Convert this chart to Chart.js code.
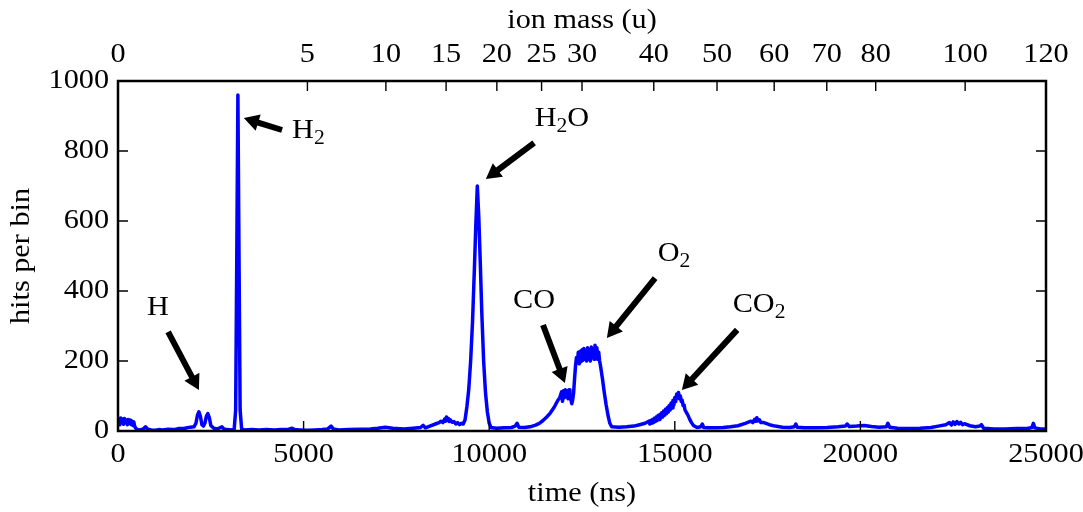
<!DOCTYPE html>
<html>
<head>
<meta charset="utf-8">
<script src="https://cdn.jsdelivr.net/npm/chart.js@4.4.1/dist/chart.umd.min.js"></script>
<style>
  html, body { margin: 0; padding: 0; background: #ffffff; }
  #wrap { width: 1083px; height: 512px; }
</style>
</head>
<body>
<div id="wrap"><canvas id="tof" width="1083" height="512"></canvas></div>
<script>
// Time-of-flight spectrum: arrival time (ns) and hits per bin
const timeNs = [
  0, 25, 50, 75, 100, 125, 150, 175, 200, 225, 250, 275, 300, 325, 350, 375, 400, 425, 450, 480, 520,
  600, 680, 740, 800, 900, 1000, 1100, 1200, 1350, 1500, 1650, 1800, 1950, 2050,
  2100, 2140, 2180, 2220, 2260, 2300, 2340, 2380, 2420, 2460, 2500, 2580, 2680, 2760, 2800, 2850, 2950, 3050,
  3130, 3170, 3200, 3230, 3260, 3290, 3330,
  3400, 3600, 3800, 4000, 4200, 4400, 4600, 4690, 4760, 4900, 5100, 5300, 5500, 5650, 5740, 5800, 5950,
  6200, 6500, 6800, 7000, 7200, 7400, 7700, 7950, 8150, 8220, 8280, 8400, 8550, 8650, 8700, 8750, 8800, 8825,
  8850, 8875, 8900, 8925, 8950, 9000, 9050, 9100, 9150, 9200, 9250, 9300, 9350,
  9400, 9450, 9500, 9550, 9600, 9640, 9680, 9720, 9760, 9800, 9850, 9900, 9950, 10000, 10050,
  10200, 10400, 10600, 10700, 10750, 10800, 10950, 11100, 11250, 11350, 11450, 11550, 11650, 11750, 11850, 11900,
  11950, 11975, 12000, 12025, 12050, 12075, 12100, 12125, 12150, 12175, 12200, 12225, 12250, 12275, 12300, 12325,
  12350, 12375, 12400, 12425, 12450, 12475, 12500, 12525, 12550, 12575, 12600, 12625, 12650, 12675, 12700, 12725,
  12750, 12775, 12800, 12825, 12850, 12875, 12900, 12925, 12950, 12975, 13000, 13050, 13100, 13150, 13200, 13250, 13300,
  13500, 13700, 13900, 14050, 14200, 14300, 14325, 14350, 14375, 14400, 14425, 14450, 14475, 14500, 14525, 14550,
  14575, 14600, 14625, 14650, 14675, 14700, 14725, 14750, 14775, 14800, 14825, 14850, 14875, 14900, 14925, 14950,
  14975, 15000, 15025, 15050, 15075, 15100, 15125, 15150, 15175, 15200, 15225, 15250, 15275, 15300, 15350, 15400,
  15450, 15500, 15600,
  15700, 15740, 15780, 15900, 16100, 16300, 16500, 16700, 16900, 17050, 17100, 17150, 17180, 17210, 17240, 17280,
  17320, 17400, 17550, 17700,
  17900, 18100, 18220, 18260, 18300, 18500, 18800, 19100, 19400, 19600, 19640, 19700, 19900, 20100, 20300, 20500,
  20700, 20740, 20790, 21000, 21300, 21600, 21900, 22100, 22300, 22400, 22450, 22500, 22550, 22600, 22650, 22700,
  22750, 22800, 22950, 23100, 23220, 23260,
  23320, 23600, 23900, 24200, 24500, 24620, 24660, 24700, 24850, 25000
];
const hits = [
  22, 36, 18, 37, 24, 34, 19, 36, 25, 32, 18, 33, 21, 31, 19, 28, 16, 26, 13, 8, 4,
  3, 6, 12, 5, 3, 2, 4, 3, 5, 4, 7, 8, 11, 12,
  22, 45, 55, 42, 18, 14, 22, 42, 50, 38, 16, 8, 6, 10, 12, 6, 4, 3,
  5, 60, 500, 960, 500, 60, 6,
  3, 4, 3, 4, 3, 4, 5, 8, 4, 3, 2, 3, 4, 6, 14, 6, 3,
  4, 5, 6, 8, 11, 8, 6, 8, 10, 16, 9, 14, 20, 24, 28, 24, 34, 28,
  40, 30, 36, 27, 32, 25, 27, 20, 24, 18, 22, 20, 32,
  70, 120, 200, 310, 460, 590, 700, 610, 480, 340, 200, 110, 55, 22, 10,
  8, 9, 10, 14, 22, 11, 10, 12, 17, 22, 30, 40, 52, 68, 88, 95,
  112, 85, 115, 95, 118, 98, 115, 92, 118, 96, 90, 78, 90, 110, 150, 185,
  210, 195, 225, 192, 228, 198, 232, 202, 236, 205, 230, 200, 238, 205, 232, 200,
  240, 210, 235, 205, 245, 215, 238, 205, 225, 200, 185, 150, 110, 75, 45, 22, 12,
  11, 12, 14, 18, 22, 28, 20, 30, 22, 33, 24, 36, 27, 40, 30, 44,
  33, 48, 37, 52, 40, 57, 45, 62, 49, 67, 54, 73, 60, 80, 66, 88,
  74, 96, 84, 106, 95, 110, 92, 100, 84, 88, 72, 74, 60, 60, 46, 34,
  24, 16, 10,
  12, 20, 10, 9, 9, 10, 12, 15, 22, 28, 24, 33, 28, 38, 29, 32,
  24, 24, 18, 14,
  11, 10, 12, 20, 11, 9, 9, 10, 12, 14, 20, 13, 14, 16, 13, 11,
  12, 22, 11, 8, 7, 8, 10, 14, 18, 24, 17, 26, 19, 27, 20, 25,
  18, 21, 15, 12, 14, 18,
  8, 6, 6, 7, 7, 10, 22, 9, 6, 6
];

// Axis ticks
const timeTicks = [0, 5000, 10000, 15000, 20000, 25000];
const hitTicks = [0, 200, 400, 600, 800, 1000];
const massTicks = [0, 5, 10, 15, 20, 25, 30, 40, 50, 60, 70, 80, 100, 120];
const massAtFullScale = 120;   // ion mass (u) arriving at the end of the time window

// Peak labels (centre x, baseline y) and arrows (data coordinates)
const peakNames   = ['H', 'H_2', 'H_2O', 'CO', 'O_2', 'CO_2'];
const nameTime    = [1078, 5130, 11960, 11207, 14980, 17270];
const nameHits    = [331, 837, 871, 351, 486, 340];
const arrowTailT  = [1350, 4420, 11210, 11450, 14470, 16680];
const arrowTailH  = [283, 860, 823, 303, 437, 289];
const arrowTipT   = [2180, 3390, 9910, 12040, 13170, 15190];
const arrowTipH   = [117, 894, 720, 137, 266, 117];

const FONT_FAMILY = '"Liberation Serif", "DejaVu Serif", serif';
const FONT_SIZE = 28;
const STRETCH = 1.08;         // widen glyphs toward a Computer Modern look
const tofSpan = 25000;
const massToTime = m => tofSpan * Math.sqrt(m / massAtFullScale);

function textAt(ctx, str, x, y, align, size, rot) {
  ctx.save();
  ctx.translate(x, y);
  if (rot) ctx.rotate(rot);
  ctx.scale(STRETCH, 1);
  ctx.font = `${size || FONT_SIZE}px ${FONT_FAMILY}`;
  ctx.textAlign = align;
  ctx.textBaseline = 'alphabetic';
  ctx.fillText(str, 0, 0);
  ctx.restore();
}

// Draws a label such as "CO_2" with the digit after "_" as a subscript
function drawChem(ctx, text, cx, baseY) {
  const parts = [];
  for (let i = 0; i < text.length; i++) {
    if (text[i] === '_') { parts.push({ s: text[i + 1], sub: true }); i++; }
    else parts.push({ s: text[i], sub: false });
  }
  const subSize = Math.round(FONT_SIZE * 0.72);
  let total = 0;
  parts.forEach(p => {
    ctx.font = `${p.sub ? subSize : FONT_SIZE}px ${FONT_FAMILY}`;
    p.w = ctx.measureText(p.s).width * STRETCH;
    total += p.w;
  });
  let x = cx - total / 2;
  parts.forEach(p => {
    textAt(ctx, p.s, x, p.sub ? baseY + 6 : baseY, 'left', p.sub ? subSize : FONT_SIZE);
    x += p.w;
  });
}

function drawArrow(ctx, x0, y0, x1, y1) {
  const dx = x1 - x0, dy = y1 - y0;
  const len = Math.hypot(dx, dy);
  const ux = dx / len, uy = dy / len;
  const nx = -uy, ny = ux;
  const shaft = 3, head = 8.5, headLen = 15;
  const bx = x1 - ux * headLen, by = y1 - uy * headLen;
  ctx.beginPath();
  ctx.moveTo(x0 + nx * shaft, y0 + ny * shaft);
  ctx.lineTo(bx + nx * shaft, by + ny * shaft);
  ctx.lineTo(bx + nx * head, by + ny * head);
  ctx.lineTo(x1, y1);
  ctx.lineTo(bx - nx * head, by - ny * head);
  ctx.lineTo(bx - nx * shaft, by - ny * shaft);
  ctx.lineTo(x0 - nx * shaft, y0 - ny * shaft);
  ctx.closePath();
  ctx.fill();
}

// Frame, inward tick marks, tick labels, axis titles and peak annotations
const framePlugin = {
  id: 'frame',
  afterDatasetsDraw(chart) {
    const { ctx, chartArea: a, scales } = chart;
    const tick = 10;
    ctx.save();
    ctx.strokeStyle = '#000';
    ctx.fillStyle = '#000';
    ctx.lineWidth = 1.4;
    ctx.beginPath();
    scales.x.ticks.forEach(t => {
      const px = scales.x.getPixelForValue(t.value);
      ctx.moveTo(px, a.bottom); ctx.lineTo(px, a.bottom - tick);
    });
    scales.x2.ticks.forEach(t => {
      const px = scales.x2.getPixelForValue(t.value);
      ctx.moveTo(px, a.top); ctx.lineTo(px, a.top + tick);
    });
    scales.y.ticks.forEach(t => {
      const py = scales.y.getPixelForValue(t.value);
      ctx.moveTo(a.left, py); ctx.lineTo(a.left + tick, py);
      ctx.moveTo(a.right, py); ctx.lineTo(a.right - tick, py);
    });
    ctx.stroke();
    ctx.lineWidth = 2.5;
    ctx.strokeRect(a.left, a.top, a.right - a.left, a.bottom - a.top);

    // tick labels
    scales.x.ticks.forEach((t, i) => {
      textAt(ctx, String(timeTicks[i]), scales.x.getPixelForValue(t.value), a.bottom + 31, 'center');
    });
    scales.x2.ticks.forEach((t, i) => {
      textAt(ctx, String(massTicks[i]), scales.x2.getPixelForValue(t.value), a.top - 19, 'center');
    });
    scales.y.ticks.forEach((t, i) => {
      textAt(ctx, String(hitTicks[i]), a.left - 9, scales.y.getPixelForValue(t.value) + 7, 'right');
    });

    // axis titles
    const midX = (a.left + a.right) / 2, midY = (a.top + a.bottom) / 2;
    textAt(ctx, 'time (ns)', midX, 501, 'center');
    textAt(ctx, 'ion mass (u)', midX, 28, 'center');
    textAt(ctx, 'hits per bin', 29, midY, 'center', FONT_SIZE, -Math.PI / 2);

    // peak annotations
    peakNames.forEach((name, i) => {
      drawChem(ctx, name, scales.x.getPixelForValue(nameTime[i]), scales.y.getPixelForValue(nameHits[i]));
      drawArrow(ctx,
        scales.x.getPixelForValue(arrowTailT[i]), scales.y.getPixelForValue(arrowTailH[i]),
        scales.x.getPixelForValue(arrowTipT[i]), scales.y.getPixelForValue(arrowTipH[i]));
    });
    ctx.restore();
  }
};

function fixHeight(h) {
  return s => { s.height = h; s.paddingLeft = 0; s.paddingRight = 0; };
}

new Chart(document.getElementById('tof'), {
  type: 'line',
  data: {
    datasets: [{
      data: timeNs.map((t, i) => ({ x: t, y: hits[i] })),
      borderColor: '#0000ff',
      borderWidth: 3.5,
      borderJoinStyle: 'round',
      borderCapStyle: 'round',
      pointRadius: 0,
      tension: 0,
      fill: false
    }]
  },
  options: {
    responsive: false,
    animation: false,
    events: [],
    layout: { padding: { left: 0, right: 37, top: 0, bottom: 0 } },
    plugins: { legend: { display: false }, tooltip: { enabled: false } },
    scales: {
      x: {
        type: 'linear', position: 'bottom', min: 0, max: tofSpan,
        afterBuildTicks: s => { s.ticks = timeTicks.map(v => ({ value: v })); },
        afterFit: fixHeight(81),
        grid: { display: false, drawTicks: false },
        border: { display: false },
        ticks: { display: false }
      },
      x2: {
        type: 'linear', position: 'top', min: 0, max: tofSpan,
        afterBuildTicks: s => { s.ticks = massTicks.map(m => ({ value: massToTime(m) })); },
        afterFit: fixHeight(81),
        grid: { display: false, drawTicks: false },
        border: { display: false },
        ticks: { display: false }
      },
      y: {
        type: 'linear', position: 'left', min: 0, max: 1000,
        afterBuildTicks: s => { s.ticks = hitTicks.map(v => ({ value: v })); },
        afterFit: s => { s.width = 118; s.paddingTop = 0; s.paddingBottom = 0; },
        grid: { display: false, drawTicks: false },
        border: { display: false },
        ticks: { display: false }
      }
    }
  },
  plugins: [framePlugin]
});
</script>
</body>
</html>
